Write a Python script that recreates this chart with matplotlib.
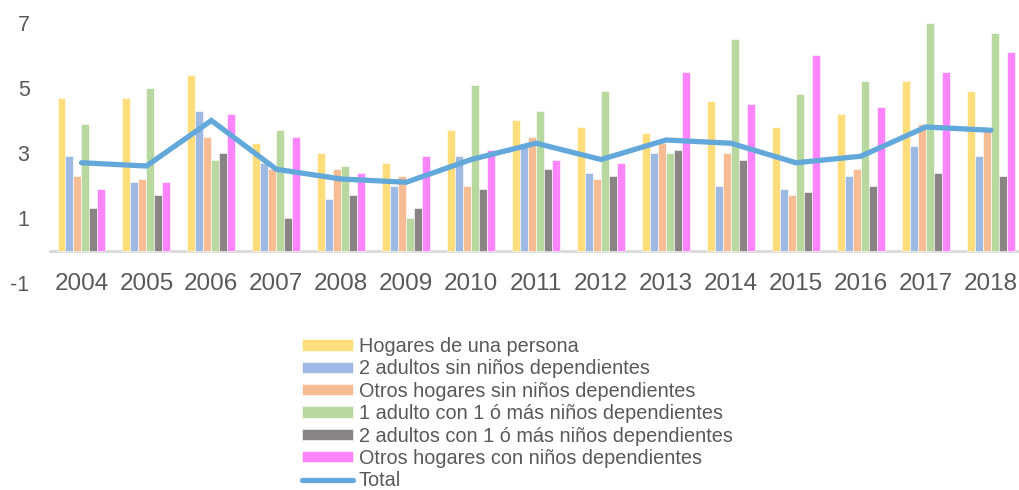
import numpy as np
import matplotlib.pyplot as plt

plt.rcParams['font.family'] = ['Liberation Sans', 'DejaVu Sans']
plt.rcParams['axes.unicode_minus'] = False

years = ['2004', '2005', '2006', '2007', '2008', '2009', '2010', '2011',
         '2012', '2013', '2014', '2015', '2016', '2017', '2018']

una_persona = [4.7, 4.7, 5.4, 3.3, 3.0, 2.7, 3.7, 4.0, 3.8, 3.6, 4.6, 3.8, 4.2, 5.2, 4.9]
dos_sin = [2.9, 2.1, 4.3, 2.7, 1.6, 2.0, 2.9, 3.2, 2.4, 3.0, 2.0, 1.9, 2.3, 3.2, 2.9]
otros_sin = [2.3, 2.2, 3.5, 2.5, 2.5, 2.3, 2.0, 3.5, 2.2, 3.3, 3.0, 1.7, 2.5, 3.9, 3.7]
uno_con = [3.9, 5.0, 2.8, 3.7, 2.6, 1.0, 5.1, 4.3, 4.9, 3.0, 6.5, 4.8, 5.2, 7.0, 6.7]
dos_con = [1.3, 1.7, 3.0, 1.0, 1.7, 1.3, 1.9, 2.5, 2.3, 3.1, 2.8, 1.8, 2.0, 2.4, 2.3]
otros_con = [1.9, 2.1, 4.2, 3.5, 2.4, 2.9, 3.1, 2.8, 2.7, 5.5, 4.5, 6.0, 4.4, 5.5, 6.1]
total = [2.7, 2.6, 4.0, 2.5, 2.2, 2.1, 2.8, 3.3, 2.8, 3.4, 3.3, 2.7, 2.9, 3.8, 3.7]

labels = ['Hogares de una persona',
          '2 adultos sin niños dependientes',
          'Otros hogares sin niños dependientes',
          '1 adulto con 1 ó más niños dependientes',
          '2 adultos con 1 ó más niños dependientes',
          'Otros hogares con niños dependientes',
          'Total']
colors = ['#FFDD7B', '#9FBAE2', '#F6BD94', '#B8D8A0', '#898483', '#FF85FF']
line_color = '#63A8DB'
text_color = '#595959'

fig = plt.figure(figsize=(10.2, 4.9), dpi=100)
ax = fig.add_axes([49 / 1020, 1 - 283 / 490, 1 - 49 / 1020, 260 / 490])

x = np.arange(len(years))
w = 0.123
series = [una_persona, dos_sin, otros_sin, uno_con, dos_con, otros_con]
handles = []
for i, (vals, c) in enumerate(zip(series, colors)):
    b = ax.bar(x + (i - 2.5) * w, vals, width=w, color=c, edgecolor='white',
               linewidth=0.4, zorder=2)
    handles.append(b)

# total line over the bars
ln, = ax.plot(x, total, color=line_color, lw=3.8, solid_capstyle='round',
              solid_joinstyle='miter', zorder=3)
handles.append(ln)

ax.axhline(0, color='#D9D9D9', lw=2, zorder=1)

ax.set_xlim(-0.5, 14.45)
ax.set_ylim(-1, 7)
ax.set_yticks([-1, 1, 3, 5, 7])
ax.set_xticks(x)
ax.set_xticklabels(years)
for s in ax.spines.values():
    s.set_visible(False)
ax.tick_params(axis='x', length=0, pad=-7, labelsize=17.5, labelcolor=text_color)
ax.tick_params(axis='y', length=0, pad=14, labelsize=15.5, labelcolor=text_color)

fig.legend(handles, labels, loc='upper left',
           bbox_to_anchor=(302 / 1020, 1 - 337 / 490),
           frameon=False, fontsize=14.3, labelcolor=text_color,
           handlelength=2.55, handleheight=0.5, handletextpad=0.3,
           labelspacing=0.17, borderpad=0, borderaxespad=0)

fig.savefig('out.png', dpi=100)
